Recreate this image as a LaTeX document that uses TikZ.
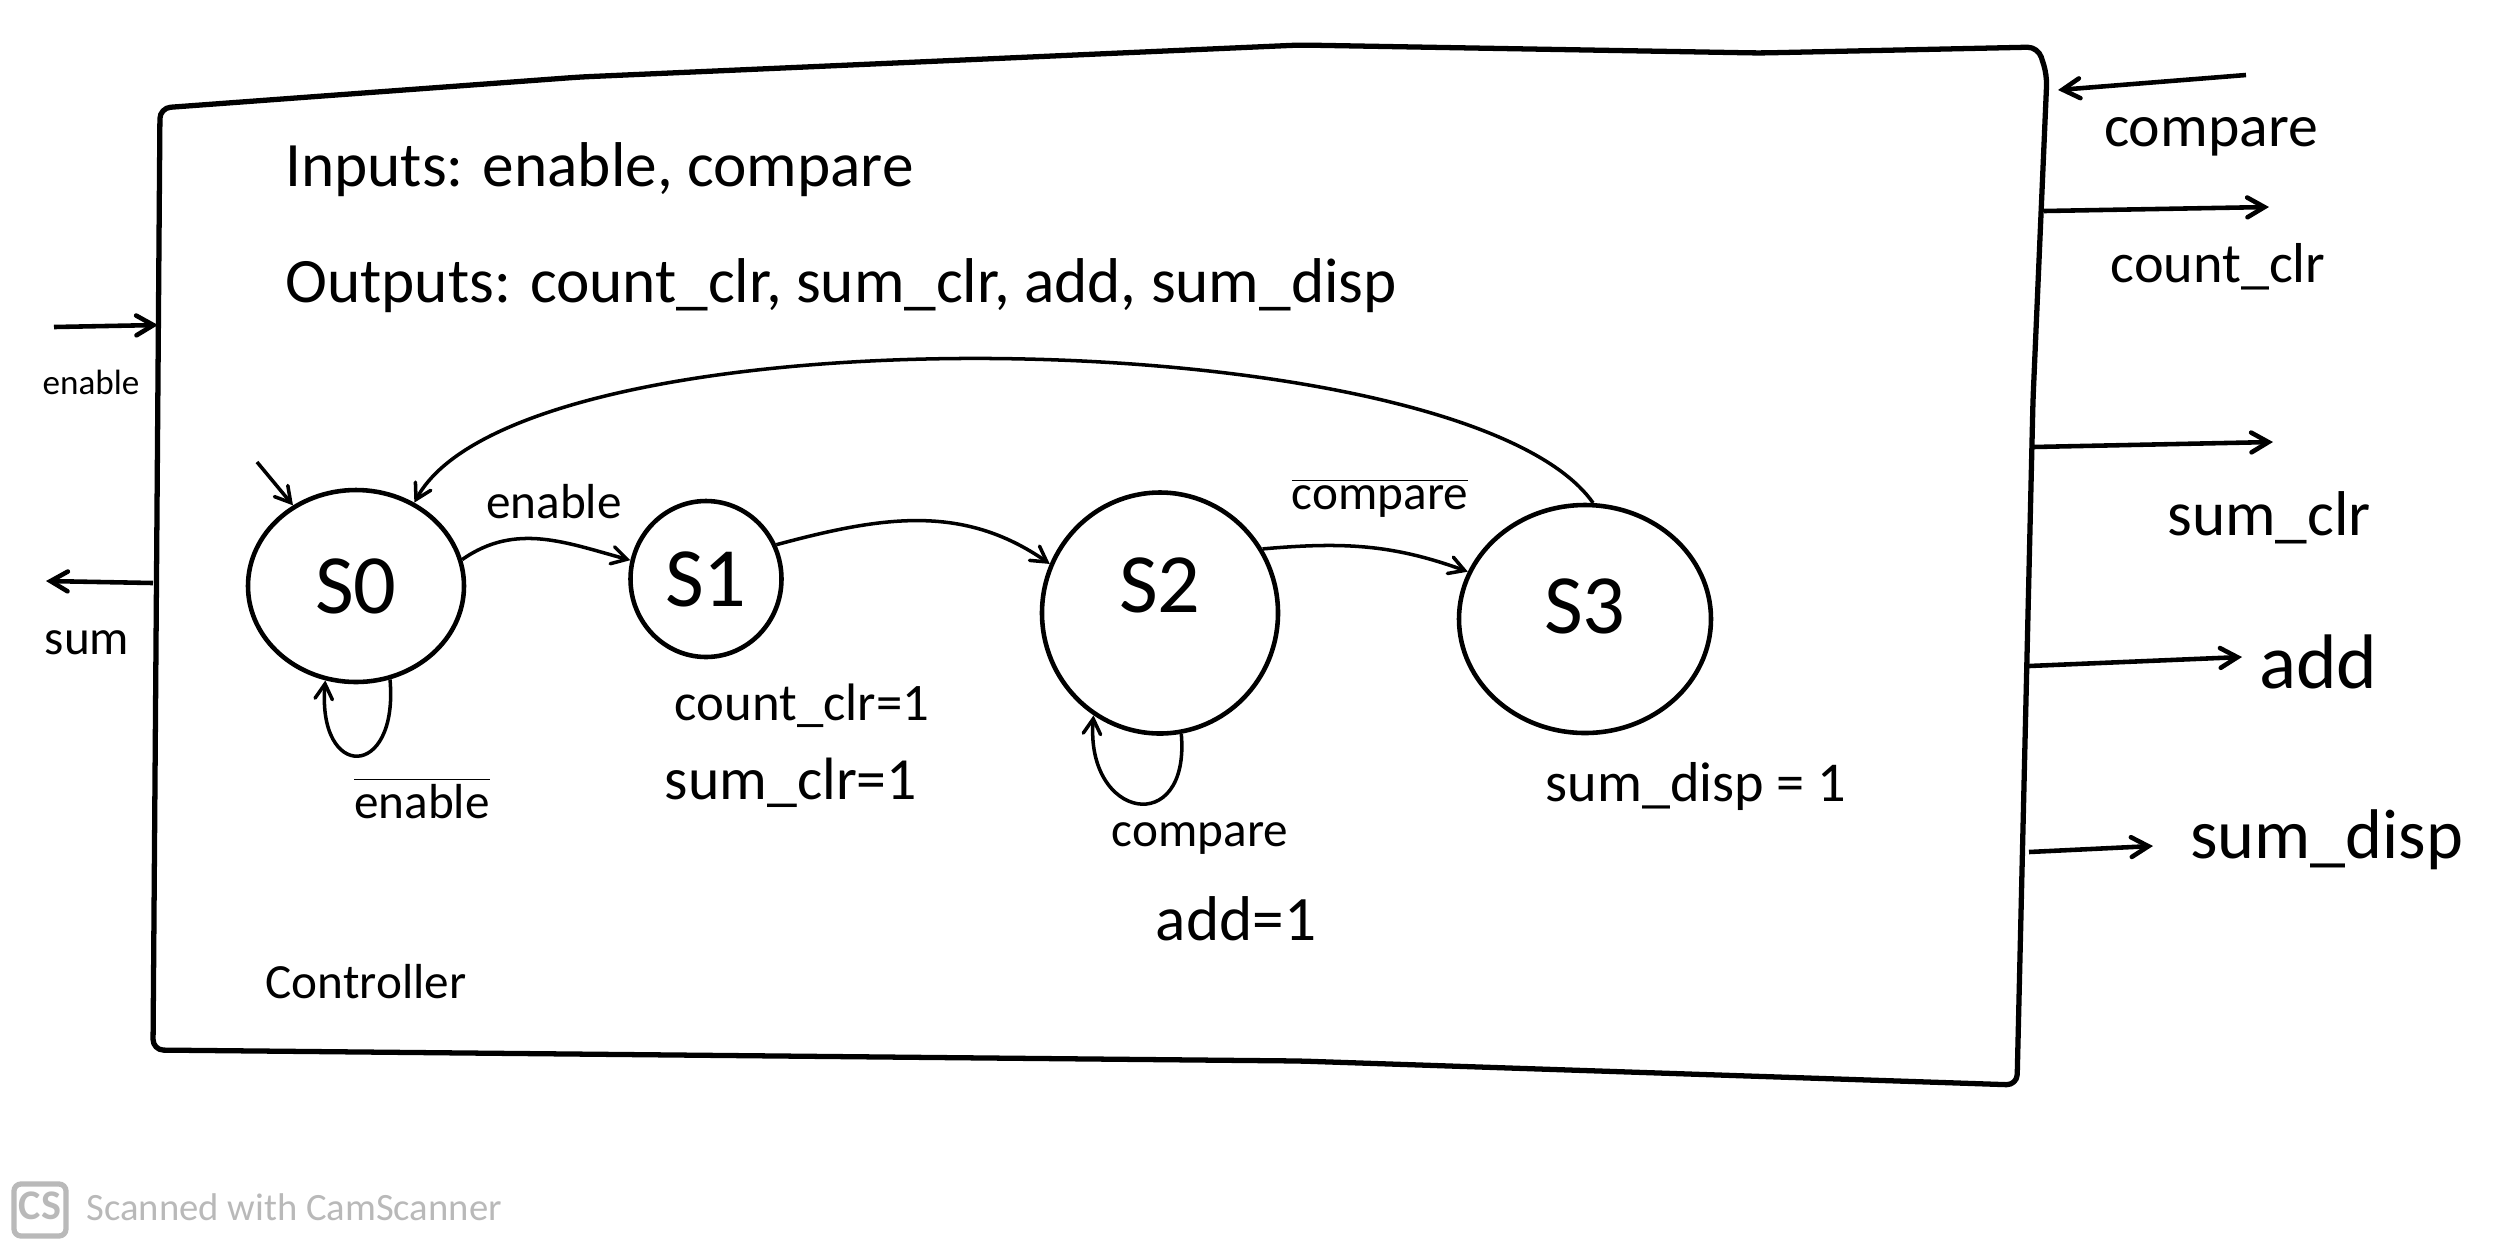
\documentclass[tikz,border=0pt]{standalone}
\usepackage{fontspec}
\setmainfont{Carlito}
\usetikzlibrary{arrows,shapes.geometric}
\definecolor{scangray}{RGB}{185,185,185}

\begin{document}
\begin{tikzpicture}[x=1cm,y=1cm]
  \useasboundingbox (0,0) rectangle (25.16,-12.49);
  \tikzstyle{StateStyle}=[draw,ellipse,line width=1.3pt,inner sep=0pt,font=\fontsize{24}{28}\selectfont]
  \tikzstyle{EdgeStyle}=[->,>=angle 60,line width=1pt]
  \tikzstyle{PortStyle}=[->,>=angle 60,line width=1.3pt]
  \tikzstyle{LabelStyle}=[inner sep=1pt]

  % controller box
  \coordinate (tl) at (1.60,-1.08);
  \coordinate (tr) at (20.38,-0.47);
  \coordinate (br) at (20.17,-10.85);
  \coordinate (bl) at (1.53,-10.50);
  \draw[line width=1.5pt,line join=round,rounded corners=3pt] (tl) -- (5.8,-0.77) -- (13,-0.45) -- (17.6,-0.53) -- (tr)
    -- (20.47,-0.75) -- (20.33,-4.0) -- (br) -- (13,-10.61) -- (bl) -- cycle;

  \node[anchor=west,font=\fontsize{18}{22}\selectfont] (inp) at (2.73,-1.70) {Inputs: enable, compare};
  \node[anchor=west,font=\fontsize{18}{22}\selectfont] (outp) at (2.73,-2.86) {Outputs: count\_clr, sum\_clr, add, sum\_disp};
  \node[font=\fontsize{14}{17}\selectfont] (ctrl) at (3.66,-9.82) {Controller};

  % states
  \node[StateStyle,minimum width=2.16cm,minimum height=1.92cm] (s0) at (3.56,-5.86) {S0};
  \node[StateStyle,minimum width=1.51cm,minimum height=1.56cm] (s1) at (7.06,-5.79) {S1};
  \node[StateStyle,minimum width=2.36cm,minimum height=2.41cm,text depth=0.55cm] (s2) at (11.60,-6.13) {S2};
  \node[StateStyle,minimum width=2.52cm,minimum height=2.28cm,text depth=0.25cm] (s3) at (15.85,-6.19) {S3};

  % transitions
  \coordinate (init) at (2.57,-4.62);
  \draw[EdgeStyle] (init) -- (s0.128);
  \draw[EdgeStyle] (s0.14) to[out=35,in=165] (s1.166);
  \draw[EdgeStyle] (s1.26) to[out=15,in=145] (s2.156);
  \draw[EdgeStyle] (s2.32) to[out=5,in=160] (s3.158);
  \draw[EdgeStyle] (s3.86) to[out=125,in=62,looseness=0.49] (s0.55);
  \draw[EdgeStyle] (s0.-70) to[out=-85,in=-95,looseness=4] (s0.-108);
  \draw[EdgeStyle] (s2.-80) to[out=-85,in=-95,looseness=3] (s2.-123);

  \node[LabelStyle,font=\fontsize{14}{17}\selectfont] (e01) at (5.54,-5.02) {enable};
  \node[LabelStyle,font=\fontsize{14}{17}\selectfont] (e00) at (4.22,-7.98) {$\overline{\mbox{enable}}$};
  \node[LabelStyle,font=\fontsize{15}{18}\selectfont] (o1a) at (8.02,-7.06) {count\_clr=1};
  \node[LabelStyle,font=\fontsize{17}{20}\selectfont] (o1b) at (7.91,-7.83) {sum\_clr=1};
  \node[LabelStyle,font=\fontsize{14}{17}\selectfont] (e22) at (12.00,-8.38) {compare};
  \node[LabelStyle,font=\fontsize{18}{21}\selectfont] (o2) at (12.36,-9.19) {add=1};
  \node[LabelStyle,font=\fontsize{14}{17}\selectfont] (e23) at (13.80,-4.98) {$\overline{\mbox{compare}}$};
  \node[LabelStyle,font=\fontsize{16}{19}\selectfont] (o3) at (16.96,-7.86) {sum\_disp = 1};

  % ports
  \coordinate (enin) at (0.54,-3.27);   \coordinate (enbox) at (1.58,-3.25);
  \coordinate (sumbox) at (1.53,-5.83); \coordinate (sumout) at (0.46,-5.81);
  \coordinate (cmpin) at (22.46,-0.75); \coordinate (cmpbox) at (20.58,-0.90);
  \coordinate (ccbox) at (20.44,-2.11); \coordinate (ccout) at (22.69,-2.07);
  \coordinate (scbox) at (20.33,-4.47); \coordinate (scout) at (22.73,-4.42);
  \coordinate (addbox) at (20.29,-6.66); \coordinate (addout) at (22.42,-6.57);
  \coordinate (sdbox) at (20.29,-8.52); \coordinate (sdout) at (21.53,-8.46);
  \draw[PortStyle] (enin) -- (enbox);
  \draw[PortStyle] (sumbox) -- (sumout);
  \draw[PortStyle] (cmpin) -- (cmpbox);
  \draw[PortStyle] (ccbox) -- (ccout);
  \draw[PortStyle] (scbox) -- (scout);
  \draw[PortStyle] (addbox) -- (addout);
  \draw[PortStyle] (sdbox) -- (sdout);

  \node[LabelStyle,font=\fontsize{10}{12}\selectfont] (enlbl) at (0.91,-3.82) {enable};
  \node[LabelStyle,font=\fontsize{14}{17}\selectfont] (sumlbl) at (0.87,-6.43) {sum};
  \node[LabelStyle,font=\fontsize{17}{20}\selectfont] (cmplbl) at (22.11,-1.37) {compare};
  \node[LabelStyle,font=\fontsize{16}{19}\selectfont] (cclbl) at (22.18,-2.67) {count\_clr};
  \node[LabelStyle,font=\fontsize{18}{21}\selectfont] (sclbl) at (22.69,-5.18) {sum\_clr};
  \node[LabelStyle,anchor=west,font=\fontsize{22}{26}\selectfont] (addlbl) at (22.55,-6.62) {add};
  \node[LabelStyle,anchor=west,font=\fontsize{20}{24}\selectfont] (sdlbl) at (21.86,-8.40) {sum\_disp};

  % scanner mark
  \draw[scangray,line width=1.5pt,rounded corners=2pt] (0.14,-11.84) rectangle (0.66,-12.36);
  \node[scangray,font=\bfseries\fontsize{12}{14}\selectfont] (cs) at (0.40,-12.06) {CS};
  \node[scangray,anchor=west,font=\fontsize{11}{13}\selectfont] (scan) at (0.74,-12.07) {Scanned with CamScanner};
\end{tikzpicture}
\end{document}
